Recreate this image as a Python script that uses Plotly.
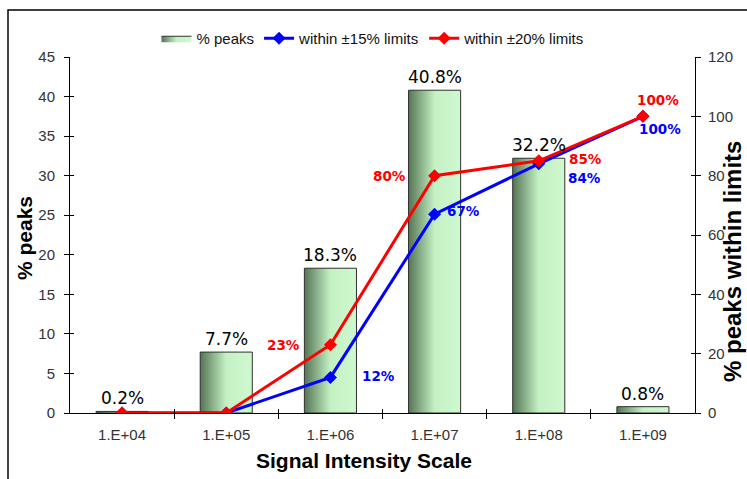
import plotly.graph_objects as go

# ---- data -------------------------------------------------------------
categories = ["1.E+04", "1.E+05", "1.E+06", "1.E+07", "1.E+08", "1.E+09"]
peaks_pct = [0.2, 7.7, 18.3, 40.8, 32.2, 0.8]          # % peaks (left axis)
within_15 = [0, 0, 12, 67, 84, 100]                     # within ±15% limits (right axis)
within_20 = [0, 0, 23, 80, 85, 100]                     # within ±20% limits (right axis)
left_ticks = [0, 5, 10, 15, 20, 25, 30, 35, 40, 45]
right_ticks = [0, 20, 40, 60, 80, 100, 120]

# ---- styling ----------------------------------------------------------
W, H = 747, 479
M_L, M_R, M_T, M_B = 70, 52, 57, 66
PW, PH = W - M_L - M_R, H - M_T - M_B
ARIAL = "Liberation Sans, Arial, sans-serif"
DEJAVU = "DejaVu Sans, sans-serif"
BAR_HALF = 0.25
BAR_SCALE = [[0.0, "#557555"], [0.5, "#c4f1c4"], [1.0, "#cff8cf"]]


def px_x(p):
    """pixel column -> paper x"""
    return (p - M_L) / PW


def px_y(p):
    """pixel row -> paper y"""
    return (H - M_B - p) / PH


fig = go.Figure()

# gradient-filled columns
idx = list(range(len(categories)))
for i, v in zip(idx, peaks_pct):
    fig.add_trace(go.Scatter(
        x=[i - BAR_HALF, i - BAR_HALF, i + BAR_HALF, i + BAR_HALF, i - BAR_HALF],
        y=[0, v, v, 0, 0],
        mode="lines", fill="toself",
        fillgradient=dict(type="horizontal", colorscale=BAR_SCALE),
        line=dict(color="#303030", width=1),
        name="% peaks", legendgroup="peaks", showlegend=(i == 0),
        hoverinfo="skip", xaxis="x", yaxis="y",
    ))

# percentage-within-limit lines on the secondary axis
fig.add_trace(go.Scatter(
    x=idx, y=within_15, mode="lines+markers", name="within ±15% limits",
    line=dict(color="#0000ff", width=3),
    marker=dict(symbol="diamond", size=10, color="#0000ff"),
    xaxis="x", yaxis="y2",
))
fig.add_trace(go.Scatter(
    x=idx, y=within_20, mode="lines+markers", name="within ±20% limits",
    line=dict(color="#ff0000", width=3),
    marker=dict(symbol="diamond", size=10, color="#ff0000"),
    xaxis="x", yaxis="y2",
))

# empty carriers for the inner/outer tick axes
for xa, ya in [("x2", "y"), ("x3", "y"), ("x", "y3"), ("x", "y4")]:
    fig.add_trace(go.Scatter(x=[], y=[], xaxis=xa, yaxis=ya,
                             showlegend=False, hoverinfo="skip"))

annotations = []

# column value labels
for i, v in zip(idx, peaks_pct):
    annotations.append(dict(
        x=i, y=v, xref="x", yref="y", text=f"{v}%", showarrow=False,
        xanchor="center", yanchor="bottom", yshift=1,
        font=dict(family=DEJAVU, size=17, color="#000000"),
    ))

# line value labels (offsets in pixels from each marker)
offs_15 = {2: ("left", 30, 1), 3: ("left", 10, 3), 4: ("left", 27, -14), 5: ("center", 17, -13)}
offs_20 = {2: ("right", -28, 0), 3: ("right", -27, 0), 4: ("left", 28, 2), 5: ("center", 15, 16)}
for vals, offs, col in [(within_15, offs_15, "#0000ff"), (within_20, offs_20, "#ff0000")]:
    for i, v in zip(idx, vals):
        if i not in offs:
            continue
        anc, dx, dy = offs[i]
        annotations.append(dict(
            x=i, y=v, xref="x", yref="y2", text=f"{v}%", showarrow=False,
            xanchor=anc, yanchor="middle", xshift=dx, yshift=dy,
            font=dict(family=DEJAVU, size=13.5, color=col, weight="bold"),
        ))

# axis titles
annotations += [
    dict(x=px_x(24), y=px_y(238), xref="paper", yref="paper", text="<b>% peaks</b>",
         textangle=-90, showarrow=False, xanchor="center", yanchor="middle",
         font=dict(family=ARIAL, size=21, color="#000000")),
    dict(x=px_x(364), y=px_y(461), xref="paper", yref="paper",
         text="<b>Signal Intensity Scale</b>", showarrow=False,
         xanchor="center", yanchor="middle",
         font=dict(family=ARIAL, size=21, color="#000000")),
    dict(x=px_x(732), y=px_y(262), xref="paper", yref="paper",
         text="<b>% peaks within limits</b>", textangle=-90, showarrow=False,
         xanchor="center", yanchor="middle",
         font=dict(family=ARIAL, size=24, color="#000000")),
]

tick_font = dict(family=ARIAL, size=15, color="#333333")
boundaries = [i + 0.5 for i in idx[:-1]]
xr = [-0.5, len(categories) - 0.5]

fig.update_layout(
    width=W, height=H,
    margin=dict(l=M_L, r=M_R, t=M_T, b=M_B),
    paper_bgcolor="#ffffff", plot_bgcolor="#ffffff",
    annotations=annotations,
    showlegend=True,
    legend=dict(orientation="h", x=px_x(373), xanchor="center",
                y=px_y(22), yanchor="top", bgcolor="rgba(0,0,0,0)",
                font=dict(family=ARIAL, size=15, color="#111111"),
                traceorder="normal", itemwidth=30),
    xaxis=dict(range=xr, tickmode="array", tickvals=idx, ticktext=categories,
               ticks="", showline=True, linecolor="#000000", linewidth=1,
               showgrid=False, zeroline=False, tickfont=tick_font,
               ticklabelstandoff=8, anchor="y", fixedrange=True),
    xaxis2=dict(range=xr, overlaying="x", anchor="y", side="bottom",
                tickmode="array", tickvals=boundaries, ticks="outside", ticklen=5,
                tickcolor="#000000", showticklabels=False, showline=False,
                showgrid=False, zeroline=False),
    xaxis3=dict(range=xr, overlaying="x", anchor="y", side="bottom",
                tickmode="array", tickvals=boundaries, ticks="inside", ticklen=4,
                tickcolor="#000000", showticklabels=False, showline=False,
                showgrid=False, zeroline=False),
    yaxis=dict(range=[0, 45], tickmode="array", tickvals=left_ticks,
               ticks="outside", ticklen=5, tickcolor="#000000",
               showline=True, linecolor="#000000", linewidth=1,
               showgrid=False, zeroline=False, tickfont=tick_font,
               ticklabelstandoff=6, anchor="x"),
    yaxis2=dict(range=[0, 120], tickmode="array", tickvals=right_ticks,
                overlaying="y", side="right", anchor="x",
                ticks="outside", ticklen=5, tickcolor="#000000",
                showline=True, linecolor="#000000", linewidth=1,
                showgrid=False, zeroline=False, tickfont=tick_font,
                ticklabelstandoff=4),
    yaxis3=dict(range=[0, 45], tickmode="array", tickvals=left_ticks,
                overlaying="y", side="left", anchor="x",
                ticks="inside", ticklen=4, tickcolor="#000000",
                showticklabels=False, showline=False, showgrid=False, zeroline=False),
    yaxis4=dict(range=[0, 120], tickmode="array", tickvals=right_ticks,
                overlaying="y", side="right", anchor="x",
                ticks="inside", ticklen=4, tickcolor="#000000",
                showticklabels=False, showline=False, showgrid=False, zeroline=False),
    shapes=[dict(type="rect", xref="paper", yref="paper",
                 x0=px_x(8), x1=px_x(760), y0=px_y(490), y1=px_y(10),
                 line=dict(color="#000000", width=1.5), fillcolor="rgba(0,0,0,0)",
                 layer="below")],
)

fig.write_html("out.html")
